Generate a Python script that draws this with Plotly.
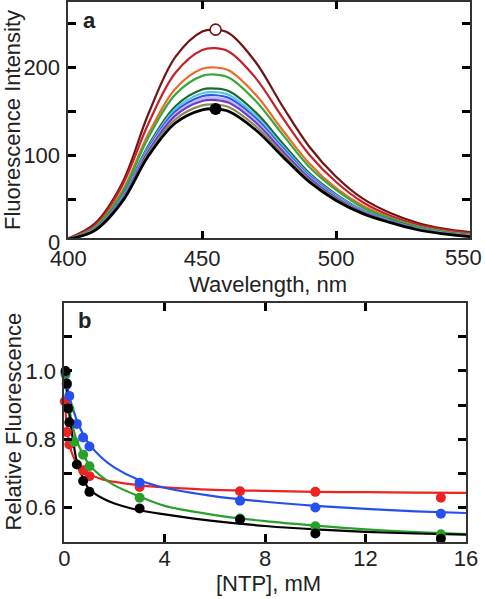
import plotly.graph_objects as go

W, H = 485, 599

# ---------------- Panel a: emission spectra ----------------
wavelength = [400, 410, 420, 430, 440, 450, 455, 460, 470, 480, 490, 500, 510, 520, 530, 540, 550]

spec_darkred  = [6.0, 23, 68, 148, 212, 241, 243, 239, 206, 156, 110, 76, 51, 35, 24, 17, 13]
spec_red      = [5.8, 21, 65, 137, 194, 220, 222, 218, 188, 143, 101, 70, 47, 32, 22, 16, 12]
spec_orange   = [5.5, 19, 59, 125, 176, 198.5, 200, 196.5, 169, 129, 91, 63, 43, 29.7, 20, 14, 10.6]
spec_green    = [5.4, 18.5, 57, 121, 169.5, 190.5, 192, 188.5, 162, 124, 87, 61, 41, 29, 19.5, 13.6, 10.2]
spec_dkgreen  = [5.3, 17, 53, 112, 156, 175, 176, 173, 149, 114, 80, 56, 38, 27, 18, 12.5, 9.3]
spec_cyan     = [5.2, 16.7, 51.9, 110, 152.8, 170.8, 172, 168.8, 145.2, 111, 78.4, 54.7, 37.6, 26.3, 17.7, 12.3, 9.1]
spec_blue     = [5.2, 16.4, 51, 108.3, 149.9, 167.3, 168.5, 165.3, 142.2, 108.8, 76.9, 53.6, 36.9, 25.9, 17.4, 12, 8.9]
spec_lavender = [5.1, 16.1, 50.2, 106.7, 147.4, 164.4, 165.5, 162.4, 139.7, 106.9, 75.6, 52.8, 36.4, 25.5, 17.1, 11.8, 8.7]
spec_purple   = [5.1, 15.9, 49.6, 105.3, 145.3, 161.9, 163, 159.9, 137.5, 105.3, 74.4, 52, 35.9, 25.2, 16.9, 11.7, 8.6]
spec_olive    = [5.0, 15.4, 48.3, 102.7, 141.2, 157, 158, 155, 133.3, 102.2, 72.2, 50.5, 35, 24.6, 16.4, 11.3, 8.3]
spec_black    = [5.0, 15, 47, 100, 137, 152, 153, 150, 129, 99, 70, 49, 34, 24, 16, 11, 8]

spectra = [
    (spec_darkred, "#6e1616", 2.2),
    (spec_red, "#c4232b", 2.2),
    (spec_orange, "#ee6a2a", 2.2),
    (spec_green, "#3aa83a", 2.2),
    (spec_dkgreen, "#1d6a2a", 2.2),
    (spec_cyan, "#52c6ee", 2.2),
    (spec_blue, "#2a58e6", 2.2),
    (spec_lavender, "#c8b4f0", 2.2),
    (spec_purple, "#6a3ed0", 2.2),
    (spec_olive, "#8a8a55", 2.2),
    (spec_black, "#000000", 2.8),
]

peak_open = (455, 243)     # open circle on top spectrum
peak_filled = (455, 153)   # filled circle on bottom spectrum

# ---------------- Panel b: titration ----------------
red_x = [0.02, 0.1, 0.2, 0.75, 1.0, 3.0, 7.0, 10.0, 15.0]
red_y = [0.911, 0.821, 0.785, 0.709, 0.692, 0.66, 0.648, 0.646, 0.629]
green_x = [0.05, 0.2, 0.4, 0.75, 1.0, 3.0, 7.0, 10.0, 15.0]
green_y = [0.99, 0.89, 0.792, 0.755, 0.721, 0.629, 0.568, 0.545, 0.522]
blue_x = [0.05, 0.1, 0.2, 0.5, 0.75, 1.0, 3.0, 7.0, 10.0, 15.0]
blue_y = [0.997, 0.96, 0.927, 0.845, 0.805, 0.779, 0.673, 0.62, 0.6, 0.582]
black_x = [0.05, 0.1, 0.15, 0.2, 0.5, 0.75, 1.0, 3.0, 7.0, 10.0, 15.0]
black_y = [1.0, 0.963, 0.89, 0.85, 0.726, 0.678, 0.646, 0.597, 0.565, 0.524, 0.509]

fit_x = [0, 0.05, 0.1, 0.15, 0.2, 0.3, 0.5, 0.75, 1, 1.5, 2, 3, 4, 6, 8, 10, 12, 14, 16]
fit_red   = [0.92, 0.88, 0.84, 0.81, 0.79, 0.76, 0.73, 0.71, 0.698, 0.683, 0.675, 0.665, 0.659, 0.652, 0.649, 0.646, 0.645, 0.644, 0.643]
fit_green = [1.0, 0.97, 0.94, 0.915, 0.89, 0.85, 0.795, 0.755, 0.725, 0.69, 0.665, 0.632, 0.605, 0.578, 0.56, 0.547, 0.536, 0.528, 0.522]
fit_blue  = [1.0, 0.98, 0.96, 0.942, 0.925, 0.9, 0.855, 0.815, 0.785, 0.745, 0.717, 0.68, 0.658, 0.633, 0.617, 0.605, 0.596, 0.589, 0.584]
fit_black = [1.0, 0.975, 0.945, 0.91, 0.875, 0.82, 0.735, 0.685, 0.652, 0.628, 0.612, 0.592, 0.58, 0.56, 0.546, 0.536, 0.529, 0.524, 0.521]

series_b = [
    ("#ee2222", red_x, red_y, fit_red),
    ("#2aa02a", green_x, green_y, fit_green),
    ("#2550ee", blue_x, blue_y, fit_blue),
    ("#000000", black_x, black_y, fit_black),
]

FONT = "Liberation Sans, Arial, Helvetica, sans-serif"
FS = 22

fig = go.Figure()

for vals, col, lw in spectra:
    fig.add_trace(go.Scatter(x=wavelength, y=vals, mode="lines",
                             line=dict(color=col, width=lw, shape="spline", smoothing=1.0),
                             xaxis="x", yaxis="y", showlegend=False, hoverinfo="skip"))

fig.add_trace(go.Scatter(x=[peak_open[0]], y=[peak_open[1]], mode="markers",
                         marker=dict(size=11, color="white", line=dict(color="#6e1616", width=1.6)),
                         xaxis="x", yaxis="y", showlegend=False))
fig.add_trace(go.Scatter(x=[peak_filled[0]], y=[peak_filled[1]], mode="markers",
                         marker=dict(size=12, color="black"),
                         xaxis="x", yaxis="y", showlegend=False))

for col, xs, ys, fy in series_b:
    fig.add_trace(go.Scatter(x=fit_x, y=fy, mode="lines",
                             line=dict(color=col, width=2.2, shape="spline", smoothing=0.8),
                             xaxis="x2", yaxis="y2", showlegend=False, hoverinfo="skip"))
for col, xs, ys, fy in series_b:
    fig.add_trace(go.Scatter(x=xs, y=ys, mode="markers",
                             marker=dict(size=10, color=col),
                             xaxis="x2", yaxis="y2", showlegend=False, cliponaxis=False))


def px2x(p):
    return p / W


def py2y(p):
    return 1 - p / H


axis_common = dict(showgrid=False, zeroline=False, showline=True, linecolor="#333333",
                   linewidth=1.6, mirror="ticks", ticks="inside", ticklen=8, tickwidth=2.5,
                   tickcolor="#000000", automargin=False,
                   tickfont=dict(family=FONT, size=FS, color="#222222"))

fig.update_layout(
    width=W, height=H,
    margin=dict(l=0, r=0, t=0, b=0, autoexpand=False),
    paper_bgcolor="white", plot_bgcolor="white",
    showlegend=False,
    xaxis=dict(axis_common, domain=[px2x(68.3), px2x(470)], range=[400, 550],
               tickvals=[400, 450, 500, 550], ticktext=["400", "450", "500", ""],
               anchor="y", ticklabelstandoff=-1),
    yaxis=dict(axis_common, domain=[py2y(238.3), py2y(1.5)], range=[6, 275],
               tickvals=[50, 100, 150, 200, 250], ticktext=["", "100", "", "200", ""],
               anchor="x", ticklabelstandoff=2),
    xaxis2=dict(axis_common, domain=[px2x(64.3), px2x(466)], range=[0, 16],
                tickvals=[0, 4, 8, 12, 16], anchor="y2", ticklabelstandoff=-4),
    yaxis2=dict(axis_common, domain=[py2y(541.7), py2y(302.7)], range=[0.5, 1.2],
                tickvals=[0.6, 0.7, 0.8, 0.9, 1.0, 1.1], ticktext=["0.6", "", "0.8", "", "1.0", ""],
                anchor="x2", ticklabelstandoff=2),
)

ann = [
    dict(text="Wavelength, nm", x=px2x(268), y=py2y(284), angle=0, xa="center"),
    dict(text="Fluorescence Intensity", x=px2x(13), y=py2y(120), angle=-90, xa="center"),
    dict(text="[NTP], mM", x=px2x(268), y=py2y(583), angle=0, xa="center"),
    dict(text="Relative Fluorescence", x=px2x(12.5), y=py2y(422), angle=-90, xa="center"),
    dict(text="<b>a</b>", x=px2x(89), y=py2y(21), angle=0, xa="center"),
    dict(text="<b>b</b>", x=px2x(84), y=py2y(320), angle=0, xa="center"),
    # end tick labels of panel a that sit at the edge of the figure
    dict(text="0", x=px2x(61.5), y=py2y(242.5), angle=0, xa="right"),
    dict(text="550", x=px2x(484), y=py2y(257), angle=0, xa="right"),
]
for a in ann:
    fig.add_annotation(text=a["text"], x=a["x"], y=a["y"], xref="paper", yref="paper",
                       showarrow=False, textangle=a["angle"], xanchor=a["xa"], yanchor="middle",
                       font=dict(family=FONT, size=FS, color="#222222"))

fig.write_html("out.html", config={"displayModeBar": False},
               post_script="document.body.style.margin='0px';")
